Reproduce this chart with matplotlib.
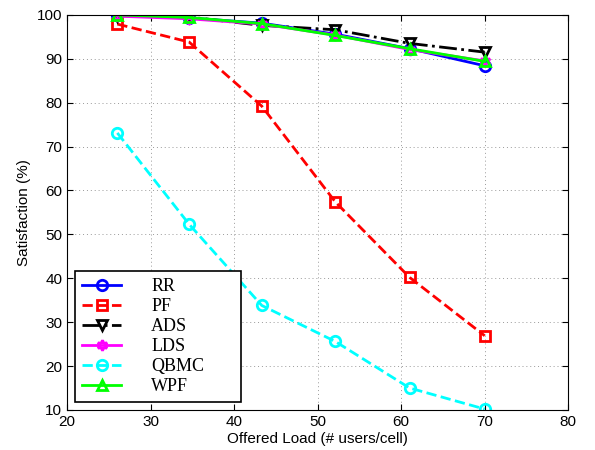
import matplotlib
matplotlib.use("Agg")
import matplotlib.pyplot as plt

# offered load (# users/cell)
load = [26, 34.6, 43.3, 52.1, 61, 70]

rr = [100, 99.3, 98.1, 95.6, 92.3, 88.4]
pf = [97.9, 93.8, 79.2, 57.4, 40.2, 26.9]
ads = [99.8, 99.5, 97.6, 96.6, 93.5, 91.5]
lds = [99.7, 99.1, 97.9, 95.4, 92.1, 89.5]
qbmc = [73.1, 52.3, 33.8, 25.6, 15.0, 10.2]
wpf = [100, 99.4, 98.0, 95.3, 92.3, 89.4]

series = [
    ("RR", rr, "#0000ff", "-", "o"),
    ("PF", pf, "#ff0000", "--", "s"),
    ("ADS", ads, "#000000", "-.", "v"),
    ("LDS", lds, "#ff00ff", "-", (6, 1, 0)),
    ("QBMC", qbmc, "#00ffff", "--", "o"),
    ("WPF", wpf, "#00ff00", "-", "^"),
]

plt.rcParams["font.family"] = ["Liberation Sans", "DejaVu Sans"]

fig = plt.figure(figsize=(5.95, 4.5), dpi=100)
ax = fig.add_axes([0.113, 0.089, 0.842, 0.878])

for name, vals, color, ls, mk in series:
    ax.plot(load, vals, color=color, linestyle=ls, marker=mk, linewidth=2,
            markersize=7.5, markerfacecolor="none", markeredgewidth=2, label=name)

ax.set_xlim(20, 80)
ax.set_ylim(10, 100)
ax.set_xticks(range(20, 81, 10))
ax.set_yticks(range(10, 101, 10))
ax.grid(True, linestyle=(0, (1, 3)), color="#999999", linewidth=0.7)
ax.tick_params(direction="in", top=True, right=True, labelsize=11, length=4)
for s in ax.spines.values():
    s.set_linewidth(0.8)

ax.set_xlabel("Offered Load (# users/cell)", fontsize=11, labelpad=2)
ax.set_ylabel("Satisfaction (%)", fontsize=11, labelpad=4)

leg = ax.legend(loc="lower left", bbox_to_anchor=(0.016, 0.02, 0.33, 0.32),
                mode="expand", borderaxespad=0,
                prop={"family": "Liberation Serif", "size": 13},
                handlelength=2.15, handletextpad=1.65, borderpad=0.4,
                labelspacing=0.16, fancybox=False, framealpha=1,
                edgecolor="black")
leg.get_frame().set_linewidth(1.2)

fig.savefig("out.png", dpi=100)
